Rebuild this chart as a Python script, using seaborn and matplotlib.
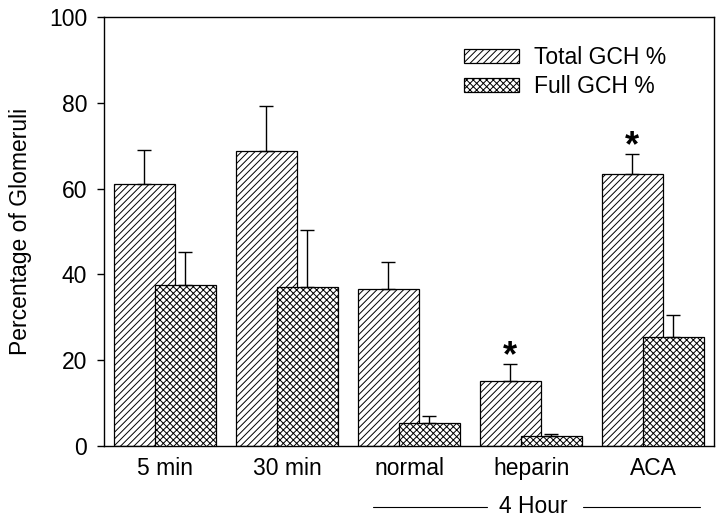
import numpy as np
import pandas as pd
import seaborn as sns
import matplotlib.pyplot as plt
import matplotlib.transforms as mtransforms

# Dados
groups = ['5 min', '30 min', 'normal', 'heparin', 'ACA']
total_gch = [61.1, 68.8, 36.6, 15.2, 63.4]
total_err = [7.9, 10.5, 6.4, 3.9, 4.7]
full_gch = [37.6, 37.1, 5.3, 2.3, 25.5]
full_err = [7.6, 13.2, 1.6, 0.5, 5.0]
significant = [False, False, False, True, True]

sns.set_style('ticks')
plt.rcParams['font.family'] = ['Liberation Sans', 'DejaVu Sans']
plt.rcParams['hatch.linewidth'] = 0.7
plt.rcParams['font.size'] = 16.5
for k in ['text.color', 'axes.labelcolor', 'xtick.color', 'ytick.color', 'axes.edgecolor']:
    plt.rcParams[k] = 'black'

idx = np.arange(len(groups))
offset = 0.336
df_total = pd.DataFrame({'x': idx.astype(float), 'y': total_gch})
df_full = pd.DataFrame({'x': idx + offset, 'y': full_gch})

fig = plt.figure(figsize=(7.24, 5.2), dpi=100)
ax = fig.add_axes([0.1436, 0.1423, 0.8424, 0.8250])

# Barras Total GCH %
sns.barplot(data=df_total, x='x', y='y', native_scale=True, width=0.5,
            color='white', saturation=1, edgecolor='black', linewidth=0.9,
            hatch='/////', errorbar=None, label='Total GCH %', ax=ax, zorder=2)
ax.errorbar(idx, total_gch, yerr=[np.zeros(5), total_err], fmt='none',
            ecolor='black', elinewidth=1.0, capsize=4.7, capthick=1.0, zorder=3)

# Barras Full GCH % (sobrepostas)
sns.barplot(data=df_full, x='x', y='y', native_scale=True, width=0.5,
            color='white', saturation=1, edgecolor='black', linewidth=0.9,
            hatch='xxxxx', errorbar=None, label='Full GCH %', ax=ax, zorder=4)
ax.errorbar(idx + offset, full_gch, yerr=[np.zeros(5), full_err], fmt='none',
            ecolor='black', elinewidth=1.0, capsize=4.7, capthick=1.0, zorder=5)

# Asteriscos de significância
for i, sig in enumerate(significant):
    if sig:
        ax.text(i, total_gch[i] + total_err[i] - 2.3, '*', ha='center', va='bottom',
                fontsize=26, fontweight='bold')

ax.set_xlim(-0.332, 4.668)
ax.set_ylim(0, 100)
ax.set_yticks([0, 20, 40, 60, 80, 100])
ax.set_xticks(idx + 0.17)
ax.set_xticklabels(groups)
ax.tick_params(axis='x', length=0, pad=8, labelsize=16.5)
ax.tick_params(axis='y', length=5, width=1, pad=7, labelsize=16.5)
ax.set_xlabel('')
ax.set_ylabel('Percentage of Glomeruli', fontsize=16.5, labelpad=12)
for s in ax.spines.values():
    s.set_visible(True)
    s.set_linewidth(1.0)
    s.set_color('black')

# Marcação "4 Hour"
trans = mtransforms.blended_transform_factory(ax.transData, ax.transAxes)
ax.plot([1.873, 2.807], [-0.142, -0.142], color='black', lw=0.8,
        transform=trans, clip_on=False)
ax.plot([3.594, 4.553], [-0.142, -0.142], color='black', lw=0.8,
        transform=trans, clip_on=False)
ax.text(3.184, -0.142, '4 Hour', ha='center', va='center', fontsize=16.5,
        transform=trans)

ax.legend(loc='upper left', bbox_to_anchor=(0.59, 0.932), frameon=False,
          fontsize=16.5, handlelength=2.4, handleheight=0.55,
          handletextpad=0.65, labelspacing=0.25, borderpad=0, borderaxespad=0)

fig.savefig('out.png', dpi=100)
